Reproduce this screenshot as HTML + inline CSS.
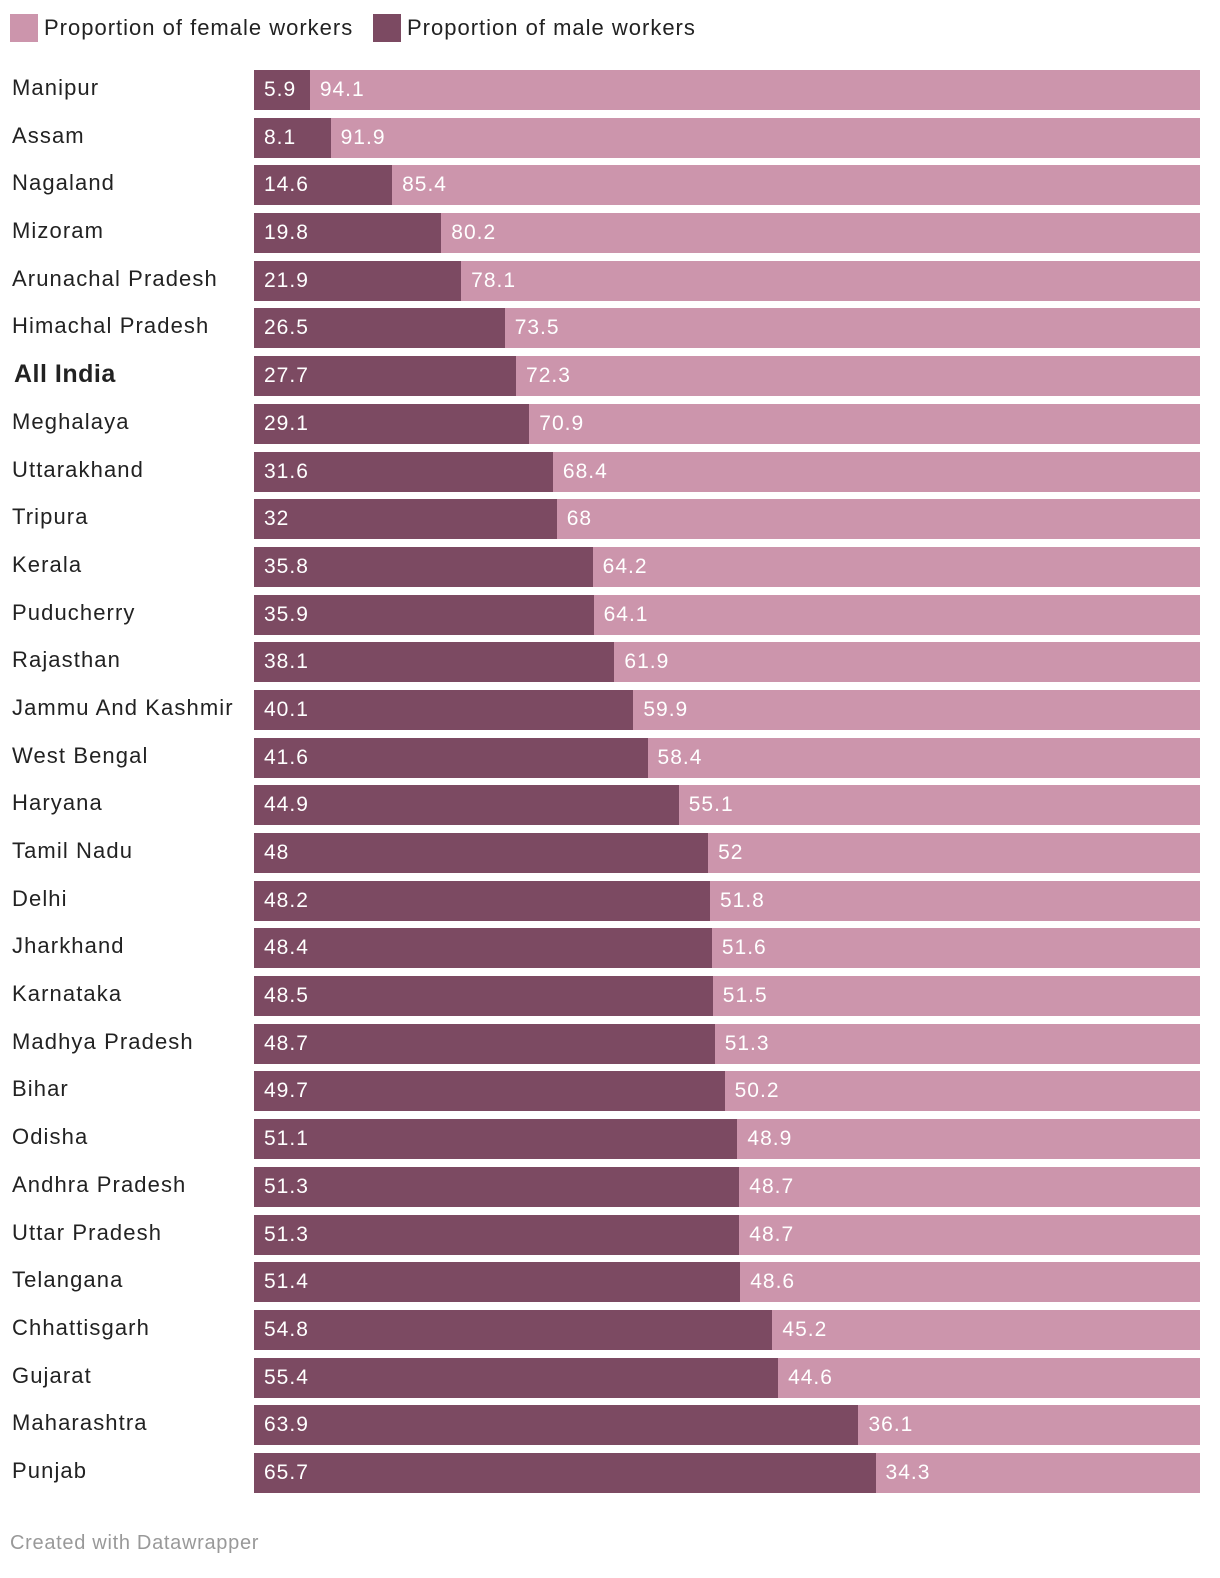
<!DOCTYPE html>
<html style="overflow:hidden"><head><meta charset="utf-8">
<style>
html,body{margin:0;padding:0;overflow:hidden}
body{background:#fff;width:1220px;height:1578px;position:relative;font-family:"Liberation Sans",sans-serif}
.lg{position:absolute;top:14px;height:28px;display:flex;align-items:center;font-size:22px;color:#222;letter-spacing:1px;white-space:nowrap}
.sw{width:28px;height:28px;margin-right:6px}
.lab{position:absolute;left:12px;font-size:22px;color:#222;line-height:40px;letter-spacing:1.1px;white-space:nowrap}
.bar{position:absolute;height:40px;color:#fff;font-size:21px;line-height:40px;box-sizing:border-box;padding-left:10px;white-space:nowrap;letter-spacing:1px}
.foot{position:absolute;left:10px;top:1532px;font-size:20px;color:#999;letter-spacing:0.7px}
</style></head><body>
<div class="lg" style="left:10px"><div class="sw" style="background:#cc95ac"></div>Proportion of female workers</div>
<div class="lg" style="left:373px"><div class="sw" style="background:#7c4a62"></div>Proportion of male workers</div>
<div id="chart"></div>
<div class="foot">Created with Datawrapper</div>
<script>
const categories=["Manipur","Assam","Nagaland","Mizoram","Arunachal Pradesh","Himachal Pradesh","All India","Meghalaya","Uttarakhand","Tripura","Kerala","Puducherry","Rajasthan","Jammu And Kashmir","West Bengal","Haryana","Tamil Nadu","Delhi","Jharkhand","Karnataka","Madhya Pradesh","Bihar","Odisha","Andhra Pradesh","Uttar Pradesh","Telangana","Chhattisgarh","Gujarat","Maharashtra","Punjab"];
const darkValues=[5.9,8.1,14.6,19.8,21.9,26.5,27.7,29.1,31.6,32,35.8,35.9,38.1,40.1,41.6,44.9,48,48.2,48.4,48.5,48.7,49.7,51.1,51.3,51.3,51.4,54.8,55.4,63.9,65.7];
const lightValues=[94.1,91.9,85.4,80.2,78.1,73.5,72.3,70.9,68.4,68,64.2,64.1,61.9,59.9,58.4,55.1,52,51.8,51.6,51.5,51.3,50.2,48.9,48.7,48.7,48.6,45.2,44.6,36.1,34.3];
const X0=254,W=946,Y0=70,P=47.69;
const x=v=>v/100*W;
const c=document.getElementById('chart');
categories.forEach((n,i)=>{
  const y=Y0+i*P;
  const l=document.createElement('div');l.className='lab';l.style.top=(y-2)+'px';l.textContent=n;
  if(n==='All India'){l.style.fontWeight='bold';l.style.fontSize='25px';l.style.left='14px';l.style.letterSpacing='0.5px';}
  
  
  c.appendChild(l);
  const tot=darkValues[i]+lightValues[i];
  const dw=x(darkValues[i]/tot*100);
  const d=document.createElement('div');d.className='bar';
  d.style.cssText+=`left:${X0}px;top:${y}px;width:${dw}px;background:#7c4a62`;d.textContent=darkValues[i];
  
  
  c.appendChild(d);
  const b=document.createElement('div');b.className='bar';
  b.style.cssText+=`left:${X0+dw}px;top:${y}px;width:${W-dw}px;background:#cc95ac`;b.textContent=lightValues[i];
  
  
  c.appendChild(b);
});
</script>
</body></html>
